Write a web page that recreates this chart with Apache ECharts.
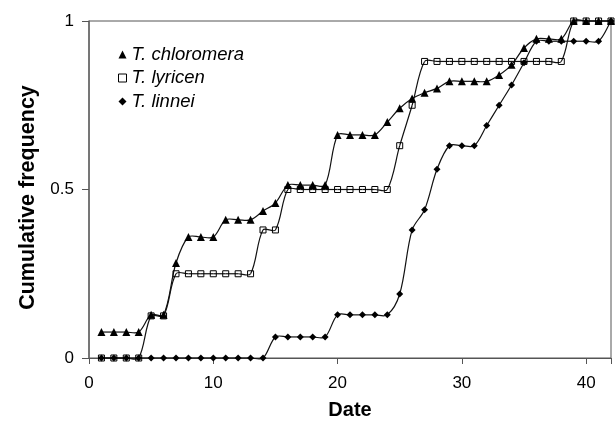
<!DOCTYPE html>
<html>
<head>
<meta charset="utf-8">
<script src="https://cdn.jsdelivr.net/npm/echarts@6/dist/echarts.min.js"></script>
<style>html,body{margin:0;padding:0;background:#fff}#c{width:615px;height:425px}</style>
</head>
<body>
<div id="c"></div>
<script>
var dates = [];
for (var d = 1; d <= 42; d++) dates.push(d);
var seriesNames = ['T. chloromera', 'T. lyricen', 'T. linnei'];
var chloromera = [0.077,0.077,0.077,0.077,0.128,0.128,0.282,0.359,0.359,0.359,
  0.41,0.41,0.41,0.436,0.46,0.513,0.513,0.513,0.513,0.662,
  0.662,0.662,0.662,0.70,0.741,0.770,0.787,0.80,0.821,0.821,
  0.821,0.821,0.84,0.870,0.92,0.947,0.947,0.947,1,1,1,1];
var lyricen = [0,0,0,0,0.125,0.125,0.25,0.25,0.25,0.25,
  0.25,0.25,0.25,0.38,0.38,0.5,0.5,0.5,0.5,0.5,
  0.5,0.5,0.5,0.5,0.63,0.75,0.88,0.88,0.88,0.88,
  0.88,0.88,0.88,0.88,0.88,0.88,0.88,0.88,1,1,1,1];
var linnei = [0,0,0,0,0,0,0,0,0,0,
  0,0,0,0,0.0625,0.0625,0.0625,0.0625,0.0625,0.128,
  0.128,0.128,0.128,0.128,0.19,0.38,0.44,0.56,0.63,0.63,
  0.63,0.69,0.75,0.81,0.876,0.94,0.94,0.94,0.94,0.94,0.94,1];
var xTicks = [0, 10, 20, 30, 40];
var yTicks = [0, 0.5, 1];

function pairs(arr){ return arr.map(function(v,i){ return [dates[i], v]; }); }

var FONT = '"Liberation Sans", Arial, sans-serif';
var LINE_COLOR = '#111';

// Excel-like smoothed curve: one cubic Bezier per segment, control points
// from length-weighted Catmull-Rom tangents computed in pixel space.
function smoothCurve(arr){
  return {
    type:'custom', name:'curve', silent:true, z:1,
    data: pairs(arr),
    encode:{x:0, y:1},
    renderItem:function(params, api){
      var i = params.dataIndex, n = arr.length;
      if (i >= n - 1) return null;
      function P(j){ j = Math.max(0, Math.min(n - 1, j)); return api.coord([dates[j], arr[j]]); }
      var p0 = P(i - 1), p1 = P(i), p2 = P(i + 1), p3 = P(i + 2);
      function dist(a, b){ return Math.sqrt((a[0]-b[0])*(a[0]-b[0]) + (a[1]-b[1])*(a[1]-b[1])); }
      var d01 = dist(p0, p1), d12 = dist(p1, p2), d23 = dist(p2, p3);
      var f1 = (d01 + d12) > 0 ? d12 / (3 * (d01 + d12)) : 0;
      var f2 = (d12 + d23) > 0 ? d12 / (3 * (d12 + d23)) : 0;
      return {
        type:'bezierCurve',
        shape:{
          x1:p1[0], y1:p1[1], x2:p2[0], y2:p2[1],
          cpx1:p1[0] + (p2[0] - p0[0]) * f1, cpy1:p1[1] + (p2[1] - p0[1]) * f1,
          cpx2:p2[0] - (p3[0] - p1[0]) * f2, cpy2:p2[1] - (p3[1] - p1[1]) * f2
        },
        style:{stroke:LINE_COLOR, lineWidth:1.2, fill:null}
      };
    }
  };
}

var chart = echarts.init(document.getElementById('c'), null, {renderer:'canvas'});
chart.setOption({
  animation:false,
  backgroundColor:'#fff',
  grid:{left:89, right:4, top:21, bottom:63, show:true, borderColor:'#555', borderWidth:1},
  legend:{
    orient:'vertical', left:113, top:40, itemWidth:8, itemHeight:8, itemGap:4.5,
    textStyle:{fontFamily:FONT, fontStyle:'italic', fontSize:18.5, lineHeight:18.5, color:'#000'},
    data:[
      {name:seriesNames[0], icon:'triangle', itemStyle:{color:'#000', borderWidth:0}},
      {name:seriesNames[1], icon:'rect', itemStyle:{color:'#fff', borderColor:'#000', borderWidth:1}},
      {name:seriesNames[2], icon:'diamond', itemStyle:{color:'#000', borderWidth:0}}
    ]
  },
  xAxis:{
    type:'value', min:0, max:42, interval:10,
    name:'Date', nameLocation:'middle', nameGap:42,
    nameTextStyle:{fontFamily:FONT, fontWeight:'bold', fontSize:20, color:'#000'},
    axisLine:{show:true, onZero:false, lineStyle:{color:'#555', width:1}},
    axisTick:{show:true, inside:false, length:6, lineStyle:{color:'#555'}},
    axisLabel:{fontFamily:FONT, fontSize:17, color:'#000', margin:17,
      formatter:function(v){ return xTicks.indexOf(v) >= 0 ? String(v) : ''; }},
    splitLine:{show:false}
  },
  yAxis:{
    type:'value', min:0, max:1, interval:0.5,
    name:'Cumulative frequency', nameLocation:'middle', nameGap:49, nameRotate:90,
    nameTextStyle:{fontFamily:FONT, fontWeight:'bold', fontSize:21.5, color:'#000', padding:[0,16,0,0]},
    axisLine:{show:true, lineStyle:{color:'#666', width:1.5}},
    axisTick:{show:true, inside:false, length:7, lineStyle:{color:'#555'}},
    axisLabel:{fontFamily:FONT, fontSize:17, color:'#000', margin:15,
      formatter:function(v){ return yTicks.indexOf(v) >= 0 ? String(v) : ''; }},
    splitLine:{show:false}
  },
  series:[
    smoothCurve(chloromera),
    smoothCurve(lyricen),
    smoothCurve(linnei),
    {name:seriesNames[0], type:'scatter', data:pairs(chloromera),
      symbol:'triangle', symbolSize:8, itemStyle:{color:'#000', borderWidth:0, opacity:1}, z:2},
    {name:seriesNames[1], type:'scatter', data:pairs(lyricen),
      symbol:'rect', symbolSize:6,
      itemStyle:{color:'rgba(255,255,255,0)', borderColor:'#000', borderWidth:1, opacity:1}, z:3},
    {name:seriesNames[2], type:'scatter', data:pairs(linnei),
      symbol:'diamond', symbolSize:7, itemStyle:{color:'#000', borderWidth:0, opacity:1}, z:4}
  ]
});
</script>
</body>
</html>
